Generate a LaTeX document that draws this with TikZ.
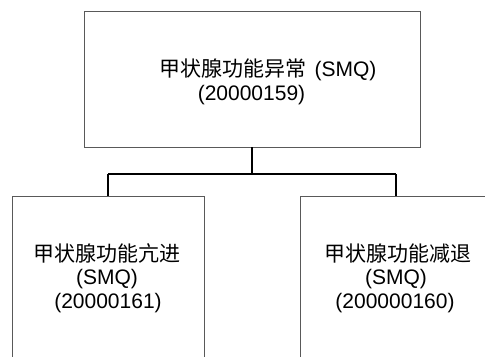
\documentclass[tikz,border=0pt]{standalone}
\usepackage{fontspec}
\setmainfont{Liberation Sans}
\newfontfamily\cjk{Noto Sans CJK SC}
\begin{document}
\begin{tikzpicture}[x=1bp,y=-1bp,
  box/.style={draw=black!65,line width=0.9bp,inner sep=0pt},
  conn/.style={draw=black,line width=1.3bp},
  txt/.style={anchor=base,inner sep=0pt,font=\fontsize{21bp}{23bp}\selectfont}]
\useasboundingbox (0,0) rectangle (485,356);
\begin{scope}
\clip (0,0) rectangle (485,356);
\node[box,minimum width=336bp,minimum height=136bp] (top) at (252,79) {};
\node[box,minimum width=192bp,minimum height=200bp,anchor=north] (left) at (108,195.5) {};
\node[box,minimum width=192bp,minimum height=200bp,anchor=north] (right) at (396,195.5) {};
\end{scope}
\node[txt] (t1) at (268,76) {{\cjk 甲状腺功能异常}\hspace{8bp}(SMQ)};
\node[txt] (t2) at (251.5,100) {(20000159)};
\node[txt] (l1) at (107,261) {\cjk 甲状腺功能亢进};
\node[txt] (l2) at (107,284) {(SMQ)};
\node[txt] (l3) at (108,308) {(20000161)};
\node[txt] (r1) at (398,261) {\cjk 甲状腺功能减退};
\node[txt] (r2) at (396,284) {(SMQ)};
\node[txt] (r3) at (395,308) {(200000160)};
\coordinate (j) at (252,174);
\draw[conn] (top.south) -- (j);
\draw[conn] (left.north |- j) -- (right.north |- j);
\draw[conn] (left.north |- j) -- (left.north);
\draw[conn] (right.north |- j) -- (right.north);
\end{tikzpicture}
\end{document}
